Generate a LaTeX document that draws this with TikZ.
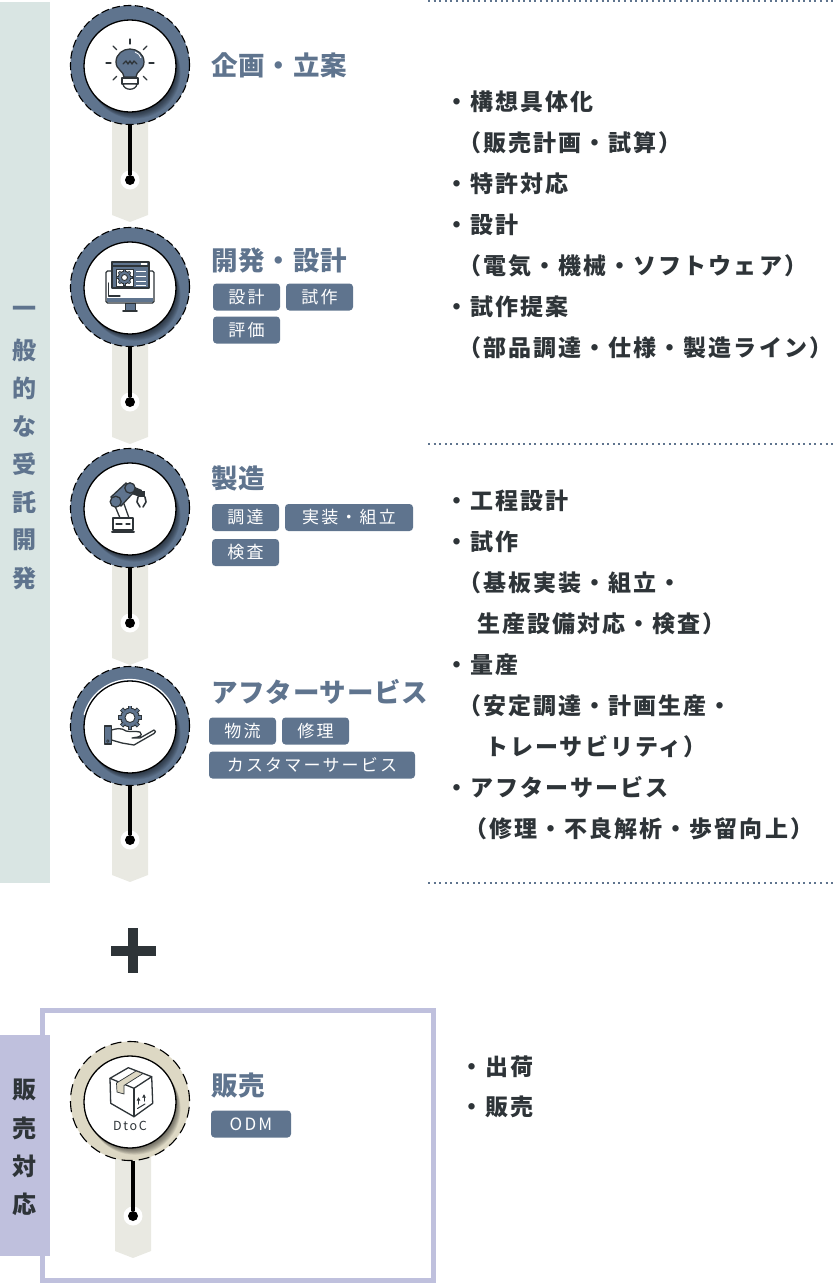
\documentclass[tikz,border=0pt]{standalone}
\usepackage{fontspec}
\setmainfont{Noto Sans CJK JP}
\newfontfamily\jpbody[LetterSpace=9]{Noto Sans CJK JP}
\newfontfamily\jphead[LetterSpace=3]{Noto Sans CJK JP}
\newfontfamily\jptag[LetterSpace=13]{Noto Sans CJK JP}
\usepackage{tikz}
\usetikzlibrary{arrows.meta}
\definecolor{slate}{HTML}{5F748E}
\definecolor{mist}{HTML}{D9E5E3}
\definecolor{stripgrey}{HTML}{E9E9E2}
\definecolor{sand}{HTML}{DDD8C4}
\definecolor{lavender}{HTML}{BFC0DD}
\definecolor{inkdark}{HTML}{2E3438}
\newcommand{\gearmark}[3]{% centre, outer radius, hole radius
    \fill[slate, draw=inkdark, line width=.9pt] #1 circle[radius=#2*0.78];
    \foreach \a in {0,45,...,315}
        \draw[inkdark, line width=#2*0.38, line cap=butt] #1 ++(\a:#2*0.7) -- ++(\a:#2*0.3);
    \foreach \a in {0,45,...,315}
        \draw[slate, line width=#2*0.2, line cap=butt] #1 ++(\a:#2*0.7) -- ++(\a:#2*0.25);
    \fill[white, draw=inkdark, line width=.9pt] #1 circle[radius=#3];
}

\begin{document}
\begin{tikzpicture}[x=1pt, y=-1pt, >=Latex,
    ringnode/.style={circle, draw=black, line width=1.1pt, minimum size=119pt, inner sep=0pt},
    discnode/.style={circle, draw=black, fill=white, line width=1.3pt, minimum size=92pt, inner sep=0pt},
    halonode/.style={circle, fill=white, minimum size=19pt, inner sep=0pt},
    dotnode/.style={circle, fill=black, minimum size=10pt, inner sep=0pt},
    stem/.style={black, line width=3.5pt},
    tagbox/.style={fill=slate, rounded corners=3.5pt, text=white, inner sep=0pt, minimum height=27pt, font=\jptag\fontsize{17}{17}\selectfont},
    headtext/.style={anchor=base west, inner sep=0pt, text=slate, font=\jphead\bfseries\fontsize{26.5}{26.5}\selectfont},
    listtext/.style={anchor=base west, inner sep=0pt, text=inkdark, font=\jpbody\bfseries\fontsize{23}{23}\selectfont},
    bandtext/.style={inner sep=0pt, font=\bfseries\fontsize{24}{24}\selectfont},
    sepline/.style={slate, line width=2pt, dash pattern=on 2pt off 3.6pt},
    iconline/.style={inkdark, line width=1.3pt, line join=round, line cap=round}]
    \useasboundingbox (0,0) rectangle (837,1283);

    % side bands and frame
    \fill[mist] (0,2) rectangle (50,883);
    \draw[lavender, line width=5pt] (42.5,1010) rectangle (433,1280);
    \fill[lavender] (0,1035) rectangle (50,1256);
    \foreach \y/\ch in {312/一,350/般,388/的,426/な,464/受,502/託,540/開,578/発}
        \node[bandtext, text=slate] (dev\y) at (24.5,\y) {\ch};
    \foreach \y/\ch in {1090/販,1128/売,1166/対,1204/応}
        \node[bandtext, text=inkdark] (sale\y) at (24.5,\y) {\ch};

    % dotted separators
    \draw[sepline] (428,1) -- (837,1);
    \draw[sepline] (428,444) -- (837,444);
    \draw[sepline] (428,883) -- (837,883);

    % plus sign
    \fill[inkdark] (111,946) rectangle (155.7,955.7);
    \fill[inkdark] (128.3,927.7) rectangle (138,973);

    % steps
    \foreach \n/\y/\sx/\d/\col/\on/\off in {a/65/112/180/slate/8/3.5, b/287/112/402/slate/8/3.5, c/508/112/623/slate/8/3.5, d/726/112/840/slate/8/3.5, e/1101/115/1216/sand/11/6} {
        \fill[stripgrey] (\sx,\y) -- (\sx+36,\y) -- (\sx+36,\d+35) -- (\sx+18,\d+42) -- (\sx,\d+35) -- cycle;
        \node[ringnode, fill=\col, dash pattern=on \on pt off \off pt] (ring\n) at (130,\y) {};
        \foreach \i in {1,...,11}
            \fill[black, opacity=0.06] (130+\i*0.42,\y+1+\i*0.62) circle[radius=46pt];
        \node[discnode] (disc\n) at (130,\y+1) {};
        \node[halonode] (halo\n) at (\sx+18,\d) {};
        \node[dotnode] (dot\n) at (\sx+18,\d) {};
        \draw[stem] (dot\n |- ring\n.south) -- (dot\n);
    }
    \draw[white, line width=1.2pt] plot[smooth, domain=195:345, samples=40] ({130+47.5*cos(\x)},{727+47.5*sin(\x)});

    % bulb icon
    \begin{scope}[shift={(130,63)}]
        \foreach \a in {0,45,...,315}
            \draw[iconline] (\a:19) -- (\a:24);
        \fill[slate, draw=inkdark, line width=1.3pt] (-6,14) .. controls (-6,8) and (-14,7) .. (-14,-1) .. controls (-14,-9) and (-7,-14) .. (0,-14) .. controls (7,-14) and (14,-9) .. (14,-1) .. controls (14,7) and (6,8) .. (6,14) -- cycle;
        \draw[iconline] (-7,1) -- (-4,-2) -- (-2,1) -- (0,-2) -- (2,1) -- (4,-2) -- (7,1);
        \draw[white, line width=.8pt] (5,-11) .. controls (8,-10) and (10,-8) .. (11,-5);
        \draw[iconline, fill=white] (-8,15) rectangle (8,21);
        \draw[iconline, fill=white] (-7,21) .. controls (-6,28) and (6,28) .. (7,21) -- cycle;
    \end{scope}

    % monitor icon
    \draw[iconline, fill=white, rounded corners=1.5pt] (106,271) rectangle (154,303);
    \fill[slate] (106.6,298) rectangle (153.4,302.4);
    \fill[slate, draw=inkdark, line width=1pt] (125,303) rectangle (135,310);
    \draw[iconline, line width=1.6pt] (123,311) -- (137,311);
    \draw[iconline, fill=slate] (112,262) rectangle (149,288);
    \draw[iconline] (112,266) -- (149,266);
    \fill[white] (141,263.2) rectangle (147,264.8);
    \fill[white, draw=inkdark, line width=1pt] (116,269) rectangle (133,286);
    \gearmark{(124.5,277.5)}{8}{3}
    \foreach \y in {271,276,281,285}
        \draw[white, line width=1pt] (136,\y) -- (146,\y);
    \draw[iconline] (108.5,283) -- (108.5,296) -- (120,296);

    % robot arm icon
    \begin{scope}[shift={(60,445)}]
        \draw[iconline, fill=white] (55,61) -- (60,73) -- (69,73) -- (63,56) -- cycle;
        \draw[iconline, fill=white] (53,73) rectangle (73,85);
        \draw[iconline] (56,79) -- (62,79);
        \draw[iconline] (66,79) -- (70,79);
        \draw[iconline, line width=2pt] (52,87) -- (74,87);
        \fill[inkdark] (68,39) -- (82,45) -- (80,52) -- (66,47) -- cycle;
        \fill[slate, draw=inkdark, line width=1.3pt] (51,52) -- (66,38) -- (74,47) -- (61,61) -- cycle;
        \fill[slate, draw=inkdark, line width=1.3pt] (55.7,56.7) circle[radius=5.5pt];
        \fill[slate, draw=inkdark, line width=1.3pt] (70,43) circle[radius=5.2pt];
        \fill[inkdark] (78,46) rectangle (85,52);
        \draw[iconline, line width=1.6pt] (78,52) -- (77,57) -- (80,62);
        \draw[iconline, line width=1.6pt] (85,52) -- (86,57) -- (83,62);
    \end{scope}

    % hand and gear icon
    \begin{scope}[shift={(60,660)}]
        \gearmark{(70,57.5)}{12}{5}
        \draw[iconline, fill=slate] (44.5,66) rectangle (51.5,84);
        \draw[iconline, line width=.7pt] (47.8,81) circle[radius=1.3pt];
        \draw[iconline, fill=white] (51.5,70) .. controls (56,69) and (60,67) .. (66,71) .. controls (70,72) and (76,71) .. (80,72) .. controls (82,73) and (82,76) .. (78,77) -- (72,78) -- (80,78) -- (94,70) .. controls (96,71) and (96,72) .. (94,73.5) -- (74,85) -- (62,83) -- (51.5,80) -- cycle;
    \end{scope}

    % box icon
    \draw[iconline, fill=white] (110,1078.3) -- (128.3,1067.7) -- (151.7,1076.7) -- (134,1088.3) -- cycle;
    \fill[sand, draw=inkdark, line width=.7pt] (116.5,1083) -- (136,1071) -- (143,1073.5) -- (124,1085.5) -- (124,1094) -- (117,1092) -- cycle;
    \draw[iconline] (110,1078.3) -- (110.7,1103.3) -- (134,1116.7) -- (152.7,1103.3) -- (151.7,1076.7);
    \draw[iconline] (134,1088.3) -- (134,1116.7);
    \draw[iconline, line width=1pt] (137.5,1108.5) -- (145,1104);
    \foreach \x/\y in {138.5/1104, 144/1101}
        \draw[iconline, line width=1pt, -{Latex[length=3.5pt,width=4pt]}] (\x,\y) -- (\x,\y-7);
    \node[inner sep=0pt, text=inkdark, font=\jptag\fontsize{12.5}{12.5}\selectfont] (dtoc) at (130,1125.5) {DtoC};

    % headings
    \node[headtext] (head1) at (211,75.5) {企画・立案};
    \node[headtext] (head2) at (211,270.5) {開発・設計};
    \node[headtext] (head3) at (211,488) {製造};
    \node[headtext] (head4) at (211,702) {アフターサービス};
    \node[headtext] (head5) at (211,1095.5) {販売};

    % tags
    \node[tagbox, minimum width=67pt] (tag1) at (246.5,297) {設計};
    \node[tagbox, minimum width=67pt] (tag2) at (319.5,297) {試作};
    \node[tagbox, minimum width=67pt] (tag3) at (246.5,330) {評価};
    \node[tagbox, minimum width=67pt] (tag4) at (245.5,517.5) {調達};
    \node[tagbox, minimum width=128pt] (tag5) at (349,517.5) {実装・組立};
    \node[tagbox, minimum width=67pt] (tag6) at (245.5,552.5) {検査};
    \node[tagbox, minimum width=67pt] (tag7) at (242.5,731) {物流};
    \node[tagbox, minimum width=67pt] (tag8) at (315.5,731) {修理};
    \node[tagbox, minimum width=206pt] (tag9) at (312,765) {カスタマーサービス};
    \node[tagbox, minimum width=80pt] (tag10) at (251,1124) {ODM};

    % lists
    \foreach \x/\y/\t [count=\i] in {
        445/110.5/・構想具体化, 458/151.5/（販売計画・試算）, 445/192.5/・特許対応, 445/233.5/・設計,
        458/274.5/（電気・機械・ソフトウェア）, 445/315.5/・試作提案, 458/356.5/（部品調達・仕様・製造ライン）,
        445/509.5/・工程設計, 445/550.5/・試作, 458/591.5/（基板実装・組立・, 477/632.5/生産設備対応・検査）,
        445/673.5/・量産, 458/714.5/（安定調達・計画生産・, 485/755.5/トレーサビリティ）,
        445/796.5/・アフターサービス, 464/837.5/（修理・不良解析・歩留向上）,
        460/1075.5/・出荷, 460/1115.5/・販売}
        \node[listtext] (item\i) at (\x,\y) {\t};
\end{tikzpicture}
\end{document}
